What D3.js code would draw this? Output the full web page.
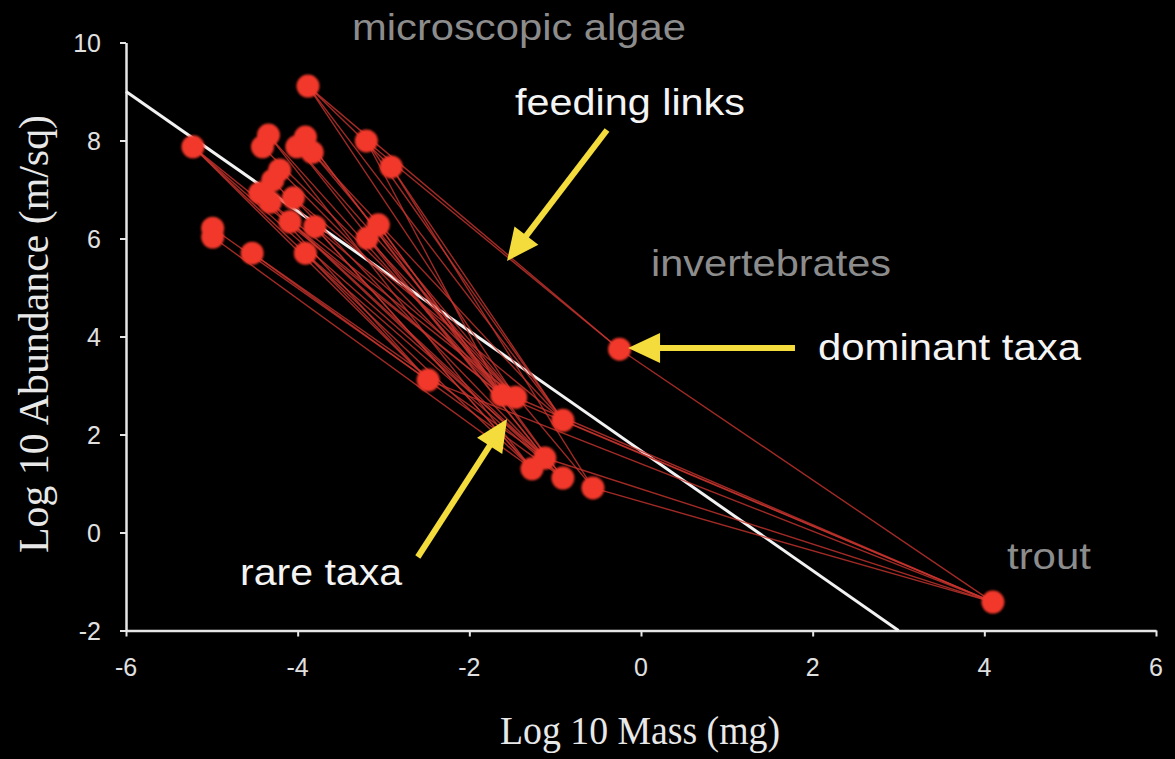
<!DOCTYPE html>
<html>
<head>
<meta charset="utf-8">
<script src="https://cdn.jsdelivr.net/npm/d3@7"></script>
<style>
  html, body { margin: 0; padding: 0; background: #000; }
  svg { display: block; }
</style>
</head>
<body>
<svg id="chart" width="1175" height="759"></svg>
<script>
// ---------- data ----------
const logMass = [
  -3.88, -5.22, -4.34, -4.41, -3.91, -3.83, -4.01, -4.21, -4.29, -4.44,
  -4.32, -4.05, -4.09, -3.80, -4.99, -4.99, -4.53, -3.91, -3.20, -2.91,
  -3.06, -3.19, -2.48, -1.62, -1.46, -0.91, -1.12, -1.27, -0.91, -0.56,
  -0.25, 4.10
];
const logAbundance = [
  9.11, 7.87, 8.11, 7.87, 8.07, 7.76, 7.87, 7.40, 7.19, 6.93,
  6.74, 6.83, 6.34, 6.24, 6.21, 6.03, 5.70, 5.70, 7.99, 7.46,
  6.28, 6.01, 3.11, 2.80, 2.76, 2.29, 1.52, 1.30, 1.11, 0.91,
  3.74, -1.42
];
// feeding links: [resource index, consumer index]
const feedingLinks = [
  [0, 30], [0, 25], [0, 24], [0, 19], [18, 30], [18, 25], [18, 23],
  [19, 25], [19, 29], [1, 27], [1, 22], [1, 26], [1, 23],
  [14, 22], [15, 27], [16, 26], [16, 28], [17, 28], [17, 22],
  [2, 23], [3, 24], [4, 23], [5, 25], [6, 26], [7, 23],
  [8, 27], [9, 22], [10, 24], [11, 25], [12, 23], [13, 24],
  [20, 23], [21, 26], [20, 28], [5, 29], [11, 26], [4, 28],
  [2, 27], [6, 24], [13, 27], [9, 26], [21, 24], [12, 28],
  [22, 31], [23, 31], [24, 31], [25, 31], [29, 31], [30, 31], [26, 31]
];
const xTicks = [-6, -4, -2, 0, 2, 4, 6];
const yTicks = [-2, 0, 2, 4, 6, 8, 10];
const xDomain = [-6, 6];
const yDomain = [-2, 10];
// fitted size-abundance line (log10 abundance vs log10 mass)
const fitIntercept = 1.667;
const fitSlope = -1.2222;
const fitRange = [-6, 3];

const groupLabels = ["microscopic algae", "invertebrates", "trout"];
const groupLabelX = [-3.367, 0.117, 4.264];
const groupLabelY = [10.05, 5.235, -0.745];
const groupLabelLen = [334, 240, 84];

const calloutLabels = ["feeding links", "dominant taxa", "rare taxa"];
const calloutLabelX = [-1.468, 2.062, -4.672];
const calloutLabelY = [8.52, 3.52, -1.071];
const calloutLabelLen = [230, 263, 162];
const arrowTail = [[-0.396, 8.214], [1.794, 3.765], [-2.60, -0.50]];
const arrowTip = [[-1.561, 5.541], [-0.151, 3.765], [-1.561, 2.316]];

// ---------- layout ----------
const svg = d3.select("#chart");
const W = 1175, H = 759;
svg.append("rect").attr("width", W).attr("height", H).attr("fill", "#000");

const x = d3.scaleLinear().domain(xDomain).range([126, 1156]);
const y = d3.scaleLinear().domain(yDomain).range([630.5, 42.5]);

const defs = svg.append("defs");
defs.append("filter").attr("id", "soft")
  .append("feGaussianBlur").attr("stdDeviation", 0.8);

// axes (lines and ticks from d3-axis, labels drawn separately)
const axisColor = "#e6e6e6";
const gx = svg.append("g").attr("transform", `translate(0,${y(-2)})`)
  .call(d3.axisBottom(x).tickValues(xTicks).tickSize(6).tickSizeOuter(0).tickFormat(""));
const gy = svg.append("g").attr("transform", `translate(${x(-6)},0)`)
  .call(d3.axisLeft(y).tickValues(yTicks).tickSize(6).tickSizeOuter(0).tickFormat(""));
[gx, gy].forEach(g => {
  g.select(".domain").attr("stroke", axisColor).attr("stroke-width", 2.5);
  g.selectAll(".tick line").attr("stroke", axisColor).attr("stroke-width", 2);
});
const tickFont = "'Liberation Sans', Arial, sans-serif";
svg.append("g").selectAll("text").data(xTicks).join("text")
  .attr("x", d => x(d)).attr("y", y(-2) + 45)
  .attr("text-anchor", "middle")
  .attr("fill", "#e0e0e0").attr("font-family", tickFont).attr("font-size", 25)
  .text(d => String(d));
svg.append("g").selectAll("text").data(yTicks).join("text")
  .attr("x", x(-6) - 25).attr("y", d => y(d) + 9)
  .attr("text-anchor", "end")
  .attr("fill", "#e0e0e0").attr("font-family", tickFont).attr("font-size", 25)
  .text(d => String(d));

// axis titles
svg.append("text")
  .attr("x", 640).attr("y", 744)
  .attr("text-anchor", "middle")
  .attr("fill", "#e8e8e8")
  .style("font-family", "'Liberation Serif', 'Times New Roman', serif")
  .style("font-size", "40px")
  .attr("textLength", 280).attr("lengthAdjust", "spacingAndGlyphs")
  .text("Log 10 Mass (mg)");
svg.append("text")
  .attr("transform", "translate(48,334) rotate(-90)")
  .attr("text-anchor", "middle")
  .attr("fill", "#e8e8e8")
  .style("font-family", "'Liberation Serif', 'Times New Roman', serif")
  .style("font-size", "42px")
  .attr("textLength", 438).attr("lengthAdjust", "spacingAndGlyphs")
  .text("Log 10  Abundance (m/sq)");

// fitted line
svg.append("line")
  .attr("x1", x(fitRange[0])).attr("y1", y(fitIntercept + fitSlope * fitRange[0]))
  .attr("x2", x(fitRange[1])).attr("y2", y(fitIntercept + fitSlope * fitRange[1]))
  .attr("stroke", "#f2f2f2").attr("stroke-width", 3);

// feeding links
svg.append("g").selectAll("line").data(feedingLinks).join("line")
  .attr("x1", d => x(logMass[d[0]])).attr("y1", d => y(logAbundance[d[0]]))
  .attr("x2", d => x(logMass[d[1]])).attr("y2", d => y(logAbundance[d[1]]))
  .attr("stroke", "#c8342e").attr("stroke-opacity", 0.8).attr("stroke-width", 1.4);

// taxa points
svg.append("g").attr("filter", "url(#soft)").selectAll("circle").data(logMass).join("circle")
  .attr("cx", (d, i) => x(logMass[i])).attr("cy", (d, i) => y(logAbundance[i]))
  .attr("r", 11.5)
  .attr("fill", "#f2382a");

// group labels (gray)
svg.append("g").selectAll("text").data(groupLabels).join("text")
  .attr("x", (d, i) => x(groupLabelX[i])).attr("y", (d, i) => y(groupLabelY[i]))
  .attr("fill", "#8c8c8c")
  .style("font-family", "'Liberation Sans', Arial, sans-serif").style("font-size", "37px")
  .attr("textLength", (d, i) => groupLabelLen[i]).attr("lengthAdjust", "spacingAndGlyphs")
  .text(d => d);

// callout labels (white)
svg.append("g").selectAll("text").data(calloutLabels).join("text")
  .attr("x", (d, i) => x(calloutLabelX[i])).attr("y", (d, i) => y(calloutLabelY[i]))
  .attr("fill", "#f4f4f4")
  .style("font-family", "'Liberation Sans', Arial, sans-serif").style("font-size", "37px")
  .attr("textLength", (d, i) => calloutLabelLen[i]).attr("lengthAdjust", "spacingAndGlyphs")
  .text(d => d);

// arrows
const arrowColor = "#f3dc3c";
const headLen = 32, headHalf = 15;
arrowTail.forEach((t, i) => {
  const x0 = x(t[0]), y0 = y(t[1]);
  const x1 = x(arrowTip[i][0]), y1 = y(arrowTip[i][1]);
  const dx = x1 - x0, dy = y1 - y0, L = Math.hypot(dx, dy);
  const ux = dx / L, uy = dy / L, px = -uy, py = ux;
  const bx = x1 - ux * headLen, by = y1 - uy * headLen;
  svg.append("line")
    .attr("x1", x0).attr("y1", y0).attr("x2", bx + ux * 2).attr("y2", by + uy * 2)
    .attr("stroke", arrowColor).attr("stroke-width", 6);
  svg.append("path")
    .attr("d", `M${x1},${y1}L${bx + px * headHalf},${by + py * headHalf}L${bx - px * headHalf},${by - py * headHalf}Z`)
    .attr("fill", arrowColor);
});
</script>
</body>
</html>
